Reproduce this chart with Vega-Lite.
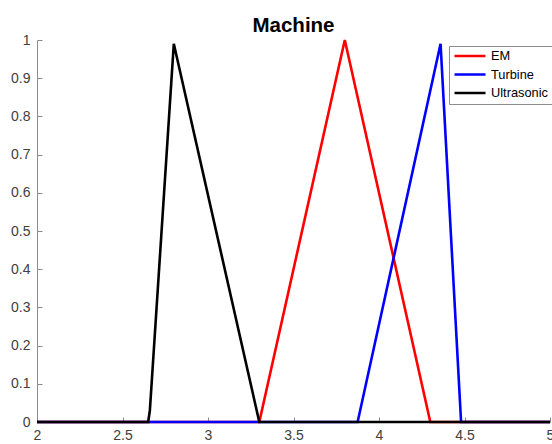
{
  "$schema": "https://vega.github.io/schema/vega-lite/v6.json",
  "width": 513,
  "height": 382,
  "autosize": {"type": "none"},
  "padding": {"left": 37, "top": 40, "right": 2, "bottom": 22},
  "background": "white",
  "title": {"text": "Machine", "fontSize": 20.5, "fontWeight": "bold", "font": "Liberation Sans", "color": "#000000", "anchor": "middle", "offset": -3},
  "config": {
    "view": {"stroke": null},
    "font": "Liberation Sans",
    "axis": {"grid": false, "domainColor": "#8c8c8c", "tickColor": "#8c8c8c", "labelColor": "#404040", "labelFontSize": 14, "labelFont": "Liberation Sans", "title": null, "tickSize": -5, "domainWidth": 1}
  },
  "data": {"values": [
    {"x": 2, "y": 0, "s": "EM"},
    {"x": 3.3, "y": 0, "s": "EM"},
    {"x": 3.8, "y": 1, "s": "EM"},
    {"x": 4.3, "y": 0, "s": "EM"},
    {"x": 5, "y": 0, "s": "EM"},
    {"x": 2, "y": 0, "s": "Turbine"},
    {"x": 3.875, "y": 0, "s": "Turbine"},
    {"x": 4.36, "y": 0.99, "s": "Turbine"},
    {"x": 4.48, "y": 0, "s": "Turbine"},
    {"x": 5, "y": 0, "s": "Turbine"},
    {"x": 2, "y": 0, "s": "Ultrasonic"},
    {"x": 2.65, "y": 0, "s": "Ultrasonic"},
    {"x": 2.66, "y": 0.03, "s": "Ultrasonic"},
    {"x": 2.8, "y": 0.99, "s": "Ultrasonic"},
    {"x": 3.3, "y": 0, "s": "Ultrasonic"},
    {"x": 5, "y": 0, "s": "Ultrasonic"}
  ]},
  "mark": {"type": "line", "strokeWidth": 2.6, "clip": false},
  "encoding": {
    "x": {"field": "x", "type": "quantitative", "scale": {"domain": [2, 5], "nice": false, "zero": false},
      "axis": {"values": [2, 2.5, 3, 3.5, 4, 4.5, 5], "format": "~g", "labelPadding": 11, "labelFlush": false}},
    "y": {"field": "y", "type": "quantitative", "scale": {"domain": [0, 1], "nice": false},
      "axis": {"values": [0, 0.1, 0.2, 0.3, 0.4, 0.5, 0.6, 0.7, 0.8, 0.9, 1], "format": "~g", "labelPadding": 12}},
    "color": {"field": "s", "type": "nominal", "scale": {"domain": ["EM", "Turbine", "Ultrasonic"], "range": ["#ff0000", "#0000ff", "#000000"]},
      "legend": {"title": null, "orient": "none", "legendX": 412, "legendY": 6, "strokeColor": "#8c8c8c", "fillColor": "white", "padding": 4,
        "symbolType": "stroke", "symbolSize": 961, "symbolStrokeWidth": 2.6, "labelOffset": 4, "labelFontSize": 12.8, "labelColor": "#000000", "rowPadding": 5.5, "clipHeight": 12}}
  }
}
